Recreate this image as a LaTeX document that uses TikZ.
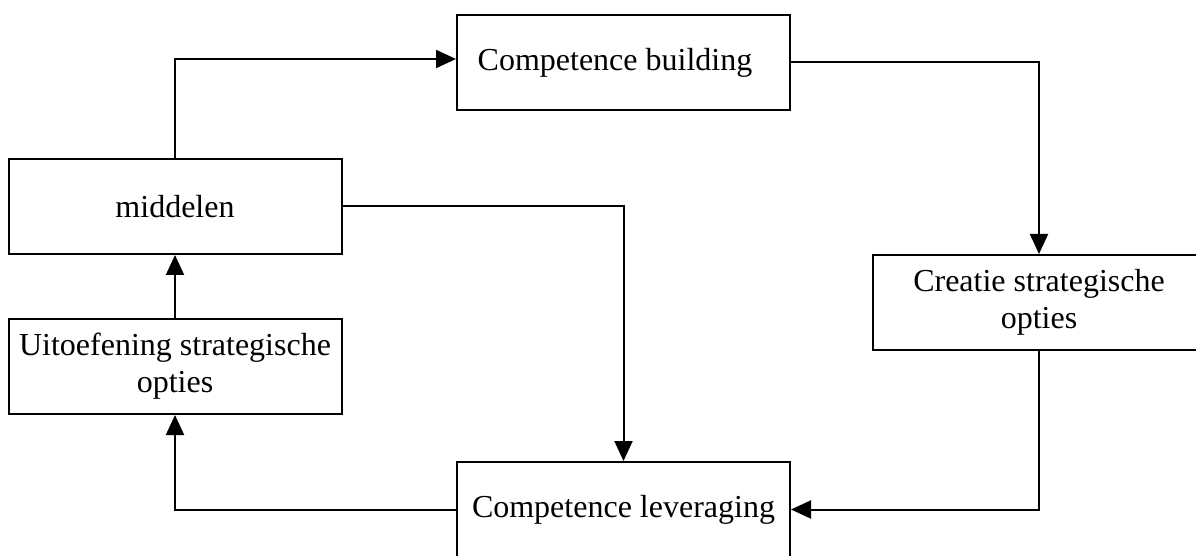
\documentclass[tikz,border=0pt]{standalone}
\usepackage{fontspec}
\setmainfont{Liberation Serif}
\usetikzlibrary{arrows.meta}

\begin{document}
\begin{tikzpicture}[x=0.5pt,y=-0.5pt,line width=1pt,
    blok/.style={draw,rectangle,minimum width=166.5pt,minimum height=47.5pt,inner sep=0pt,
        align=center,font=\fontsize{16}{18.5}\selectfont},
    pijl/.style={-{Triangle[length=10pt,width=9pt]}}]
    \useasboundingbox (0,0) rectangle (1196,556);
    \node[blok] (bouw) at (623.5,62.5) {Competence building\hspace*{8.5pt}};
    \node[blok] (midd) at (175,206.5) {middelen};
    \node[blok] (uitoef) at (175,366.5) {Uitoefening strategische\\opties};
    \node[blok,minimum width=166pt] (creatie) at (1039,302.5) {Creatie strategische\\opties};
    \node[blok] (lever) at (623.5,509.5) {Competence leveraging};
    % de kringloop
    \draw[pijl] (midd.north) |- ([yshift=1.75pt]bouw.west);
    \draw[pijl] (bouw.east) -| (creatie.north);
    \draw[pijl] (creatie.south) |- (lever.east);
    \draw[pijl] (lever.west) -| (uitoef.south);
    \draw[pijl] (uitoef) -- (midd);
    \draw[pijl] (midd.east) -| (lever.north);
\end{tikzpicture}
\end{document}
